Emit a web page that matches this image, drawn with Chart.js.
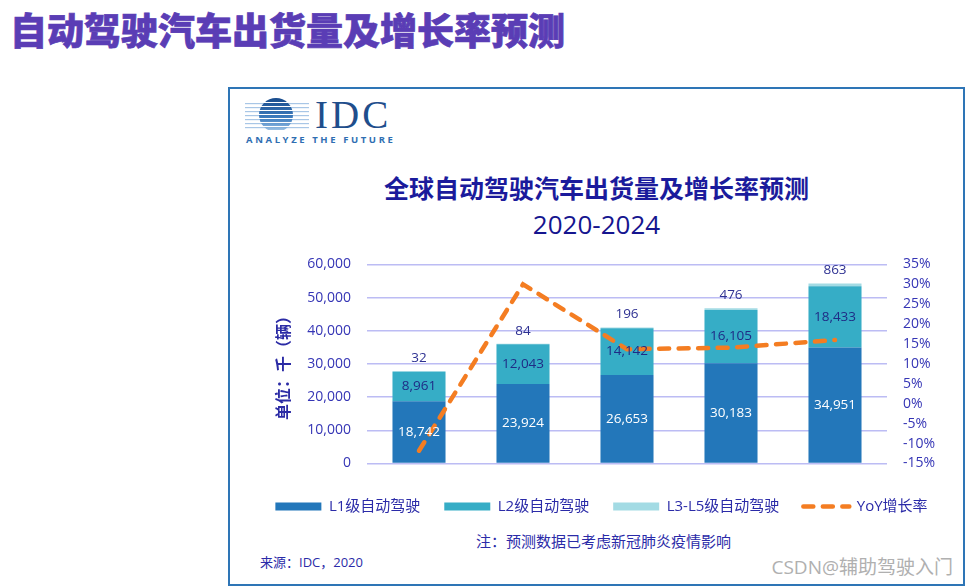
<!DOCTYPE html>
<html>
<head>
<meta charset="utf-8">
<script src="https://cdn.jsdelivr.net/npm/chart.js@4"></script>
<style>
  body { margin: 0; width: 967px; height: 587px; overflow: hidden; position: relative; background: #fff;
         font-family: 'Open Sans', 'Noto Sans CJK SC', sans-serif; }
  .abs { position: absolute; white-space: nowrap; }
  #pageTitle { left: 10px; top: 11px; font: 900 37px/37px 'Noto Sans CJK SC', sans-serif; color: #5A3DB5;
               -webkit-text-stroke: 0.7px #5A3DB5; }
  #frame { left: 228px; top: 87px; width: 737px; height: 499px; box-sizing: border-box; border: 2px solid #2E75B6; }
  #idc { left: 315px; top: 95px; font: 39px/39px 'Liberation Serif', serif; color: #1F4E8C; letter-spacing: 3px; }
  #tagline { left: 246px; top: 135px; font: bold 9.5px/10px 'Open Sans', sans-serif; color: #2F6EB2; letter-spacing: 2.6px; }
  #chartTitle { left: 228px; width: 737px; top: 175px; text-align: center; font: bold 25px/25px 'Noto Sans CJK SC', sans-serif; color: #1B1B9C; }
  #chartSub { left: 228px; width: 737px; top: 211px; text-align: center; font: 26px/26px 'Open Sans', sans-serif; color: #15158F; }
  #note { left: 476px; top: 534px; font: 15px/15px 'Open Sans', 'Noto Sans CJK SC', sans-serif; color: #2B2BA8; }
  #source { left: 260px; top: 556px; font: 13px/13px 'Open Sans', 'Noto Sans CJK SC', sans-serif; color: #2B2BA8; }
  #mark { right: 14px; top: 557px; font: 19px/20px 'Open Sans', 'Noto Sans CJK SC', sans-serif; color: #b0b0b0; }
  #chart { position: absolute; left: 231px; top: 240px; }
</style>
</head>
<body>
<div class="abs" id="pageTitle">自动驾驶汽车出货量及增长率预测</div>
<div class="abs" id="frame"></div>

<svg class="abs" style="left:245px;top:98px" width="64" height="36" viewBox="0 0 64 36">
  <defs>
    <clipPath id="disc"><circle cx="31" cy="17" r="17"/></clipPath>
    <linearGradient id="shade" gradientUnits="userSpaceOnUse" x1="0" y1="0" x2="0" y2="34">
      <stop offset="0" stop-color="#174A8B"/>
      <stop offset="0.6" stop-color="#3F7EC0"/>
      <stop offset="1" stop-color="#A9CBEA"/>
    </linearGradient>
  </defs>
  <g fill="#A8C6E6">
    <rect x="0" y="5" width="64" height="1.2"/><rect x="0" y="9" width="64" height="1.2"/>
    <rect x="0" y="13" width="64" height="1.2"/><rect x="0" y="17" width="64" height="1.2"/>
    <rect x="0" y="21" width="64" height="1.2"/><rect x="0" y="25" width="64" height="1.2"/>
    <rect x="0" y="29" width="64" height="1.2"/>
  </g>
  <g clip-path="url(#disc)" fill="url(#shade)">
    <rect x="0" y="0" width="64" height="4"/><rect x="0" y="5" width="64" height="3"/>
    <rect x="0" y="9" width="64" height="3"/><rect x="0" y="13" width="64" height="3"/>
    <rect x="0" y="17" width="64" height="3"/><rect x="0" y="21" width="64" height="3"/>
    <rect x="0" y="25" width="64" height="3"/><rect x="0" y="29" width="64" height="3"/>
  </g>
</svg>
<div class="abs" id="idc">IDC</div>
<div class="abs" id="tagline">ANALYZE THE FUTURE</div>

<div class="abs" id="chartTitle">全球自动驾驶汽车出货量及增长率预测</div>
<div class="abs" id="chartSub">2020-2024</div>

<canvas id="chart" width="741" height="284"></canvas>

<div class="abs" id="note">注：预测数据已考虑新冠肺炎疫情影响</div>
<div class="abs" id="source">来源：IDC，2020</div>
<div class="abs" id="mark">CSDN@辅助驾驶入门</div>

<script>
const years = ["2020", "2021", "2022", "2023", "2024"];
const l1_units = [18742, 23924, 26653, 30183, 34951];
const l2_units = [8961, 12043, 14142, 16105, 18433];
const l3_units = [32, 84, 196, 476, 863];
const yoy_rate = [-11.8, 30.0, 13.7, 14.1, 16.0];

const units_max = 60000;
const units_step = 10000;
const rate_min = -15;
const rate_max = 35;
const rate_step = 5;

const font_family = "'Open Sans', 'Noto Sans CJK SC', sans-serif";
const tick_color = "#3535B5";
const legend_color = "#2B2BA8";

// number labels on the bars (no datalabels plugin available)
const barLabels = {
  id: "barLabels",
  afterDatasetsDraw(chart) {
    const ctx = chart.ctx;
    ctx.save();
    ctx.font = "13.5px " + font_family;
    ctx.textAlign = "center";
    ctx.textBaseline = "middle";
    const fmt = (v) => v.toLocaleString("en-US");

    chart.getDatasetMeta(0).data.forEach((bar, i) => {
      ctx.fillStyle = "#ffffff";
      ctx.fillText(fmt(l1_units[i]), bar.x, (bar.y + bar.base) / 2);
    });
    chart.getDatasetMeta(1).data.forEach((bar, i) => {
      ctx.fillStyle = "#1F2C86";
      ctx.fillText(fmt(l2_units[i]), bar.x, (bar.y + bar.base) / 2);
    });
    chart.getDatasetMeta(2).data.forEach((bar, i) => {
      ctx.fillStyle = "#2E3192";
      ctx.fillText(fmt(l3_units[i]), bar.x, bar.y - 13);
    });
    ctx.restore();
  },
};

const chart_data = {
  labels: years,
  datasets: [
    { label: "L1级自动驾驶", data: l1_units, backgroundColor: "#2377BA", yAxisID: "y", order: 1,
      barPercentage: 0.51, categoryPercentage: 1 },
    { label: "L2级自动驾驶", data: l2_units, backgroundColor: "#36ADC6", yAxisID: "y", order: 1,
      barPercentage: 0.51, categoryPercentage: 1 },
    { label: "L3-L5级自动驾驶", data: l3_units, backgroundColor: "#A3DBE4", yAxisID: "y", order: 1,
      barPercentage: 0.51, categoryPercentage: 1 },
    {
      type: "line",
      label: "YoY增长率",
      data: yoy_rate,
      yAxisID: "y1",
      order: 0,
      borderColor: "#F47D22",
      borderWidth: 4.5,
      borderDash: [10, 9.5],
      borderCapStyle: "round",
      pointRadius: 0,
      tension: 0,
      fill: false,
    },
  ],
};

const chart_config = {
  type: "bar",
  data: chart_data,
  plugins: [barLabels],
  options: {
    responsive: false,
    animation: false,
    devicePixelRatio: 1,
    layout: { padding: { top: 20, left: 0, right: 0, bottom: 0 } },
    plugins: {
      tooltip: { enabled: false },
      title: { display: false },
      legend: {
        position: "bottom",
        labels: {
          usePointStyle: true,
          pointStyleWidth: 46,
          boxHeight: 8,
          padding: 24,
          color: legend_color,
          font: { size: 15, family: font_family },
          generateLabels: (chart) =>
            chart.data.datasets.map((ds, i) => {
              const isLine = ds.type === "line";
              return {
                text: ds.label,
                datasetIndex: i,
                hidden: false,
                fontColor: legend_color,
                fillStyle: isLine ? "rgba(0,0,0,0)" : ds.backgroundColor,
                strokeStyle: isLine ? ds.borderColor : ds.backgroundColor,
                lineWidth: isLine ? 4.5 : 0,
                lineDash: isLine ? ds.borderDash : [],
                lineCap: isLine ? "round" : "butt",
                pointStyle: isLine ? "line" : "rect",
              };
            }),
        },
      },
    },
    scales: {
      x: {
        stacked: true,
        grid: { display: false, drawTicks: false },
        border: { display: false },
        ticks: { color: tick_color, padding: 12, font: { size: 16, family: font_family } },
        afterFit: (s) => { s.height = 11.5; },
      },
      y: {
        stacked: true,
        position: "left",
        min: 0,
        max: units_max,
        ticks: {
          stepSize: units_step,
          color: tick_color,
          padding: 16,
          font: { size: 14, family: font_family },
          callback: (v) => v.toLocaleString("en-US"),
        },
        grid: { color: "#BCBCF4", lineWidth: 1.5, drawTicks: false },
        border: { display: false },
        title: {
          display: true,
          text: "单位：千（辆）",
          color: "#2B2BA5",
          font: { size: 16, weight: "bold", family: font_family },
          padding: { top: 44, bottom: 0 },
        },
        afterFit: (s) => { s.width = 136; },
      },
      y1: {
        position: "right",
        min: rate_min,
        max: rate_max,
        ticks: {
          stepSize: rate_step,
          color: tick_color,
          padding: 16,
          font: { size: 14, family: font_family },
          callback: (v) => v + "%",
        },
        grid: { display: false, drawTicks: false },
        border: { display: false },
        afterFit: (s) => { s.width = 85; },
      },
    },
  },
};

var myChart = new Chart(document.getElementById("chart"), chart_config);
</script>
</body>
</html>
